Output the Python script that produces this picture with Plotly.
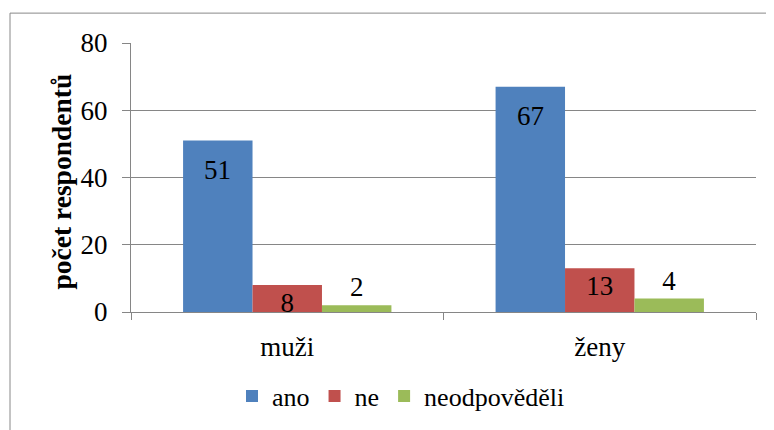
import plotly.graph_objects as go

categories = ["muži", "ženy"]
series_names = ["ano", "ne", "neodpověděli"]
ano = [51, 67]
ne = [8, 13]
neodpovedeli = [2, 4]
y_ticks = [0, 20, 40, 60, 80]
y_title = "počet respondentů"

colors = ["#4F81BD", "#C0504D", "#9BBB59"]
FONT = "Liberation Serif"
FS = 27

OFF = 8  # default body margin of the html page
W, H = 774 - OFF, 430 - OFF
L, R, T, B = 131 - OFF, 18, 43 - OFF, 117
pw, ph = W - L - R, H - T - B
BARGAP = 1 / 3

def px_x(p):
    return (p - OFF - L) / pw

def px_y(p):
    return (H - B - (p - OFF)) / ph

fig = go.Figure()
positions = ["none", "inside", "outside"]
for name, vals, col, pos in zip(series_names, [ano, ne, neodpovedeli], colors, positions):
    fig.add_trace(go.Bar(
        x=categories, y=vals, name=name,
        marker=dict(color=col, line=dict(width=0)),
        text=vals, texttemplate="%{y}",
        textposition=pos, insidetextanchor="end", textangle=0,
        constraintext="none", cliponaxis=False,
        textfont=dict(family=FONT, size=FS, color="black"),
    ))

# blue labels sit inside the bar ends, a little below the top
bw = (1 - BARGAP) / 3
for i, v in enumerate(ano):
    fig.add_annotation(x=i - bw, y=v, xref="x", yref="y", text=str(v), showarrow=False,
                       yanchor="middle", yshift=-29,
                       font=dict(family=FONT, size=FS, color="black"))

# y axis title
fig.add_annotation(x=px_x(61), y=px_y(182), xref="paper", yref="paper",
                   text="<b>" + y_title + "</b>", textangle=-90, showarrow=False,
                   xanchor="center", yanchor="middle",
                   font=dict(family=FONT, size=27.5, color="black"))

fig.update_layout(
    width=W, height=H,
    margin=dict(l=L, r=R, t=T, b=B, pad=0),
    paper_bgcolor="white", plot_bgcolor="white",
    barmode="group", bargap=BARGAP, bargroupgap=0,
    font=dict(family=FONT, size=FS, color="black"),
    showlegend=True,
    legend=dict(
        orientation="h", x=px_x(401), y=px_y(396),
        xanchor="center", yanchor="middle",
        font=dict(family=FONT, size=26, color="black"),
        traceorder="normal", itemwidth=30,
    ),
    xaxis=dict(
        showgrid=False, showline=True, linecolor="#868686", linewidth=1,
        ticks="outside", tickson="boundaries", ticklen=7, tickcolor="#868686",
        tickfont=dict(family=FONT, size=FS, color="black"),
        ticklabelstandoff=11,
    ),
    yaxis=dict(
        range=[0, 80], tickvals=y_ticks, showgrid=True, gridcolor="#868686", gridwidth=1,
        showline=True, linecolor="#868686", linewidth=1,
        ticks="outside", ticklen=8, tickcolor="#868686",
        tickfont=dict(family=FONT, size=FS, color="black"),
        ticklabelstandoff=9, zeroline=False,
    ),
    shapes=[dict(type="rect", xref="paper", yref="paper",
                 x0=px_x(10), x1=px_x(800), y0=px_y(13), y1=px_y(460),
                 line=dict(color="#888888", width=1), fillcolor="rgba(0,0,0,0)", layer="below")],
)

fig.write_html("out.html")
